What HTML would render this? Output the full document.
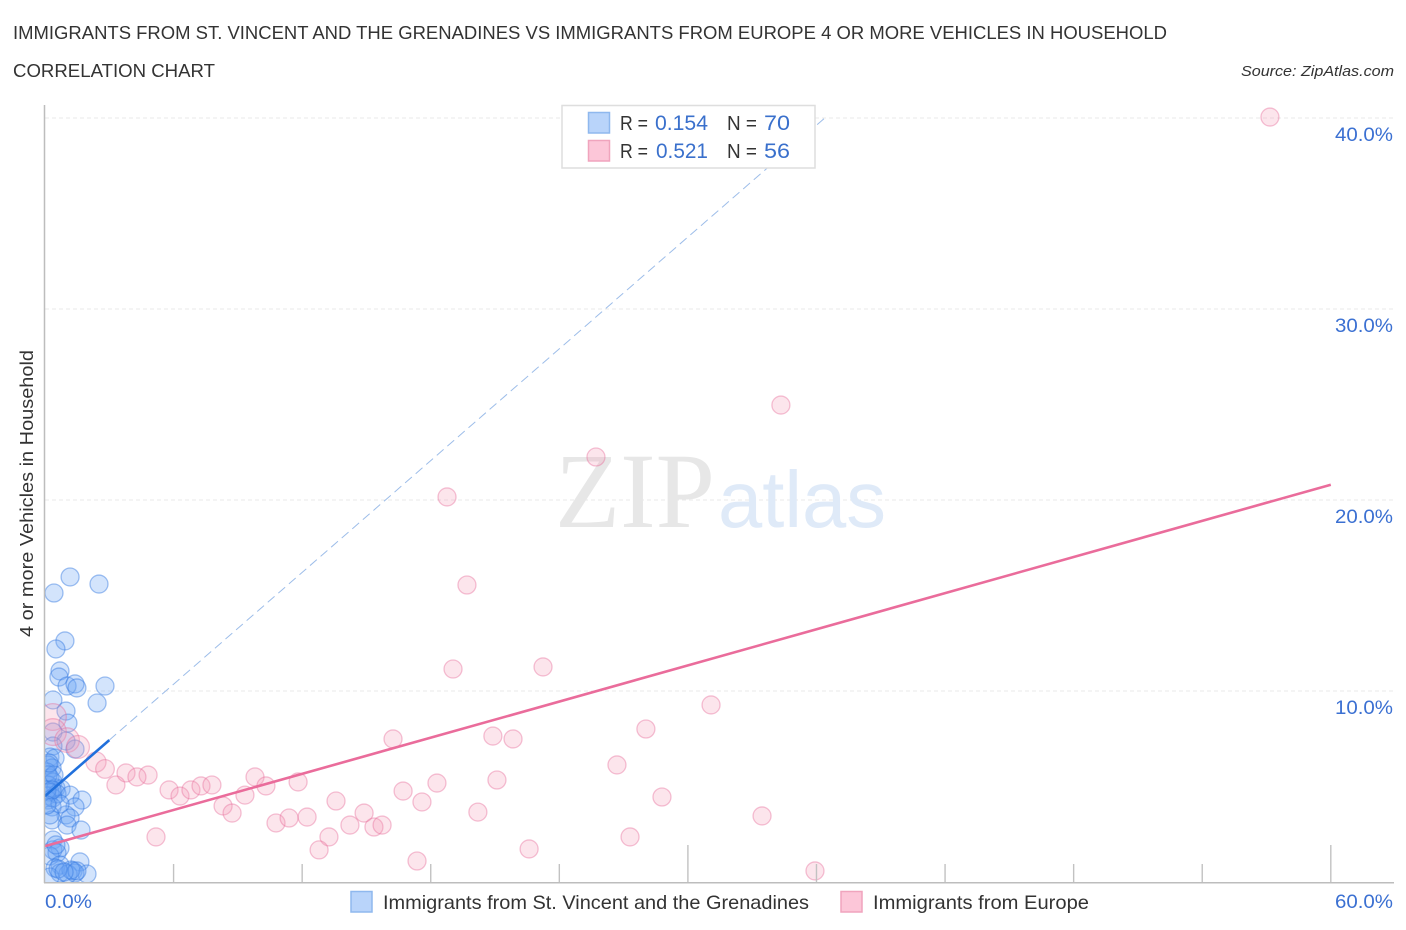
<!DOCTYPE html>
<html lang="en">
<head>
<meta charset="utf-8">
<title>Correlation Chart</title>
<style>
html,body{margin:0;padding:0;background:#fff}
svg{display:block}
text{font-family:"Liberation Sans",sans-serif}
</style>
</head>
<body>
<svg id="chart" width="1406" height="930" viewBox="0 0 1406 930" xmlns="http://www.w3.org/2000/svg">
  <defs>
    <clipPath id="plot-clip"><rect x="45" y="100" width="1349" height="782"/></clipPath>
  </defs>
  <text x="13" y="39" font-size="18.5" fill="#333" textLength="1154" lengthAdjust="spacingAndGlyphs">IMMIGRANTS FROM ST. VINCENT AND THE GRENADINES VS IMMIGRANTS FROM EUROPE 4 OR MORE VEHICLES IN HOUSEHOLD</text>
  <text x="13" y="77" font-size="18.5" fill="#333" textLength="202" lengthAdjust="spacingAndGlyphs">CORRELATION CHART</text>
  <text x="1394" y="76" font-size="15" font-style="italic" fill="#333" text-anchor="end" textLength="153" lengthAdjust="spacingAndGlyphs">Source: ZipAtlas.com</text>

  <g id="grid"></g>

  <g>
    <text x="555" y="527" font-size="107" fill="#e7e7e7" style="font-family:'Liberation Serif',serif" textLength="160" lengthAdjust="spacingAndGlyphs">ZIP</text>
    <text x="718" y="527" font-size="80" fill="#dfeaf8" textLength="168" lengthAdjust="spacingAndGlyphs">atlas</text>
  </g>

  <g id="points-blue" clip-path="url(#plot-clip)"></g>
  <g id="points-pink" clip-path="url(#plot-clip)"></g>
  <g id="trends"></g>
  <g id="axes"></g>
  <g id="tick-labels"></g>

  <text transform="translate(33,493.5) rotate(-90)" font-size="18.5" fill="#333" text-anchor="middle" textLength="287" lengthAdjust="spacingAndGlyphs">4 or more Vehicles in Household</text>

  <g>
    <rect x="562" y="105.5" width="253" height="62.5" fill="#fff" stroke="#dedede" stroke-width="1.5"/>
    <rect x="588.5" y="112.5" width="21" height="20.5" fill="#b9d4fa" stroke="#8fb8ee" stroke-width="1.5"/>
    <rect x="588.5" y="140.5" width="21" height="20.5" fill="#fcc6d8" stroke="#f0a4bd" stroke-width="1.5"/>
    <text x="620" y="130" font-size="20" fill="#333" textLength="28" lengthAdjust="spacingAndGlyphs">R =</text>
    <text x="655" y="130" font-size="21" fill="#3a70cc" textLength="53" lengthAdjust="spacingAndGlyphs">0.154</text>
    <text x="727" y="130" font-size="20" fill="#333" textLength="30" lengthAdjust="spacingAndGlyphs">N =</text>
    <text x="764" y="130" font-size="21" fill="#3a70cc" textLength="26" lengthAdjust="spacingAndGlyphs">70</text>
    <text x="620" y="158" font-size="20" fill="#333" textLength="28" lengthAdjust="spacingAndGlyphs">R =</text>
    <text x="656" y="158" font-size="21" fill="#3a70cc" textLength="52" lengthAdjust="spacingAndGlyphs">0.521</text>
    <text x="727" y="158" font-size="20" fill="#333" textLength="30" lengthAdjust="spacingAndGlyphs">N =</text>
    <text x="764" y="158" font-size="21" fill="#3a70cc" textLength="26" lengthAdjust="spacingAndGlyphs">56</text>
  </g>

  <g>
    <rect x="351" y="891.5" width="21" height="20.5" fill="#b9d4fa" stroke="#8fb8ee" stroke-width="1.5"/>
    <text x="383" y="909" font-size="19.5" fill="#333" textLength="426" lengthAdjust="spacingAndGlyphs">Immigrants from St. Vincent and the Grenadines</text>
    <rect x="841" y="891.5" width="21" height="20.5" fill="#fcc6d8" stroke="#f0a4bd" stroke-width="1.5"/>
    <text x="873" y="909" font-size="19.5" fill="#333" textLength="216" lengthAdjust="spacingAndGlyphs">Immigrants from Europe</text>
  </g>
</svg>

<script>
var blueX = [1.17,0.42,2.52,0.93,0.51,0.70,0.65,1.03,1.40,1.49,2.80,2.43,0.37,0.98,1.07,0.37,0.98,1.40,0.37,0.23,0.47,0.14,0.33,0.09,0.23,0.37,0.14,0.51,0.75,0.23,0.09,0.37,0.14,0.56,1.17,1.73,1.40,0.98,1.17,0.33,0.70,0.33,1.03,1.68,0.23,0.37,0.70,0.37,0.56,0.23,0.51,1.63,0.70,0.47,1.31,1.96,0.70,1.40,1.07,0.23,1.21,1.49,0.61,0.89,0.14,0.09,0.42,0.33,0.09,0.19];
var blueY = [15.97,15.13,15.60,12.62,12.20,11.05,10.73,10.26,10.37,10.16,10.26,9.37,9.53,8.95,8.32,7.85,7.38,6.96,7.12,6.54,6.49,6.13,5.97,5.76,5.45,5.24,5.08,4.92,4.87,4.71,4.50,4.40,4.29,4.61,4.55,4.29,3.93,3.51,3.35,3.93,4.08,3.25,2.98,2.72,3.51,2.20,1.78,1.68,1.52,1.36,1.94,1.05,0.89,0.73,0.58,0.42,0.47,0.47,0.42,0.26,0.63,0.58,0.68,0.52,5.60,4.82,5.60,4.82,4.03,6.23];
var pinkX = [57.16,34.34,25.71,18.76,19.69,19.04,23.24,31.08,28.04,16.24,20.90,21.84,26.69,21.09,18.29,16.71,17.59,28.79,20.20,33.46,27.30,22.59,17.36,35.93,4.81,5.79,6.30,6.81,7.28,7.79,9.80,10.31,9.33,8.31,8.73,11.81,10.78,11.39,12.23,13.58,14.23,14.89,15.35,15.73,13.25,12.79,5.18,0.37,0.37,1.03,1.54,2.38,2.80,3.31,3.78,4.29];
var pinkY = [40.05,24.97,22.25,20.16,15.55,11.15,11.26,9.27,8.01,7.49,7.64,7.49,6.13,5.34,5.18,4.76,4.19,4.45,3.66,3.46,2.36,1.73,1.10,0.58,5.60,4.82,4.50,4.82,5.03,5.08,5.50,5.03,4.55,3.98,3.61,5.24,3.09,3.35,3.40,4.24,2.98,3.61,2.88,2.98,2.36,1.68,2.36,8.64,7.85,7.43,7.07,6.28,5.92,5.08,5.71,5.50];
var pinkTrendX = [0,60];
var pinkTrendY = [1.88,20.8];
var blueTrendX = [0,3];
var blueTrendY = [4.5,7.43];
var blueDashX = [3,36.44];
var blueDashY = [7.43,40.05];
var yTicks = [10,20,30,40];
var yTickLabels = ["10.0%","20.0%","30.0%","40.0%"];
var xTicks = [6,12,18,24,30,36,42,48,54,60];
var xMajorTicks = [30,60];
var xEndLabels = ["0.0%","60.0%"];

var NS = 'http://www.w3.org/2000/svg';
function sx(v){ return 45 + v * 21.43; }
function sy(v){ return 882 - v * 19.1; }
function make(tag, attrs, parent){
  var e = document.createElementNS(NS, tag);
  for (var k in attrs) e.setAttribute(k, attrs[k]);
  parent.appendChild(e);
  return e;
}

var grid = document.getElementById('grid');
yTicks.forEach(function(t){
  var l = make('line', {x1:45, x2:1394, y1:sy(t), y2:sy(t), stroke:'#e8e8e8', 'stroke-width':1, 'stroke-dasharray':'4 3'}, grid);
  
  
});

var gb = document.getElementById('points-blue');
blueX.forEach(function(x, i){
  var c = make('circle', {cx:sx(x), cy:sy(blueY[i]), r:9, fill:'rgba(110,165,245,0.3)', stroke:'rgba(50,120,225,0.45)', 'stroke-width':1.3}, gb);
  
  
});

var gp = document.getElementById('points-pink');
pinkX.forEach(function(x, i){
  var r = 9 + 5 * Math.max(0, 1 - x / 3);
  var c = make('circle', {cx:sx(x), cy:sy(pinkY[i]), r:r, fill:'rgba(245,150,180,0.25)', stroke:'rgba(232,110,155,0.42)', 'stroke-width':1.3}, gp);
  
  
});

var tr = document.getElementById('trends');
var dash = make('line', {x1:sx(blueDashX[0]), y1:sy(blueDashY[0]), x2:sx(blueDashX[1]), y2:sy(blueDashY[1]), stroke:'#9dbde9', 'stroke-width':1, 'stroke-dasharray':'9 5'}, tr);


var bl = make('line', {x1:sx(blueTrendX[0]), y1:sy(blueTrendY[0]), x2:sx(blueTrendX[1]), y2:sy(blueTrendY[1]), stroke:'#2170dc', 'stroke-width':2.6}, tr);


var pl = make('line', {x1:sx(pinkTrendX[0]), y1:sy(pinkTrendY[0]), x2:sx(pinkTrendX[1]), y2:sy(pinkTrendY[1]), stroke:'#ea6c9b', 'stroke-width':2.6}, tr);



var ax = document.getElementById('axes');
var yAxis = make('line', {x1:44.5, x2:44.5, y1:105, y2:883, stroke:'#bdbdbd', 'stroke-width':1.5}, ax);


var xAxis = make('line', {x1:44, x2:1394, y1:882.7, y2:882.7, stroke:'#bdbdbd', 'stroke-width':1.5}, ax);


xTicks.forEach(function(t){
  var major = xMajorTicks.indexOf(t) >= 0;
  var l = make('line', {x1:sx(t), x2:sx(t), y1:major ? 845 : 864, y2:882, stroke:'#c2c2c2', 'stroke-width':1.4}, ax);
  
  
});

var tl = document.getElementById('tick-labels');
yTicks.forEach(function(t, i){
  var e = make('text', {x:1393, y:sy(t) + 23, 'font-size':19.5, fill:'#3b70d2', 'text-anchor':'end', textLength:58, lengthAdjust:'spacingAndGlyphs'}, tl);
  
  
  e.textContent = yTickLabels[i];
});
var x0 = make('text', {x:45, y:908, 'font-size':19.5, fill:'#3b70d2', textLength:47, lengthAdjust:'spacingAndGlyphs'}, tl);


x0.textContent = xEndLabels[0];
var x1 = make('text', {x:1393, y:908, 'font-size':19.5, fill:'#3b70d2', 'text-anchor':'end', textLength:58, lengthAdjust:'spacingAndGlyphs'}, tl);


x1.textContent = xEndLabels[1];
</script>
</body>
</html>
